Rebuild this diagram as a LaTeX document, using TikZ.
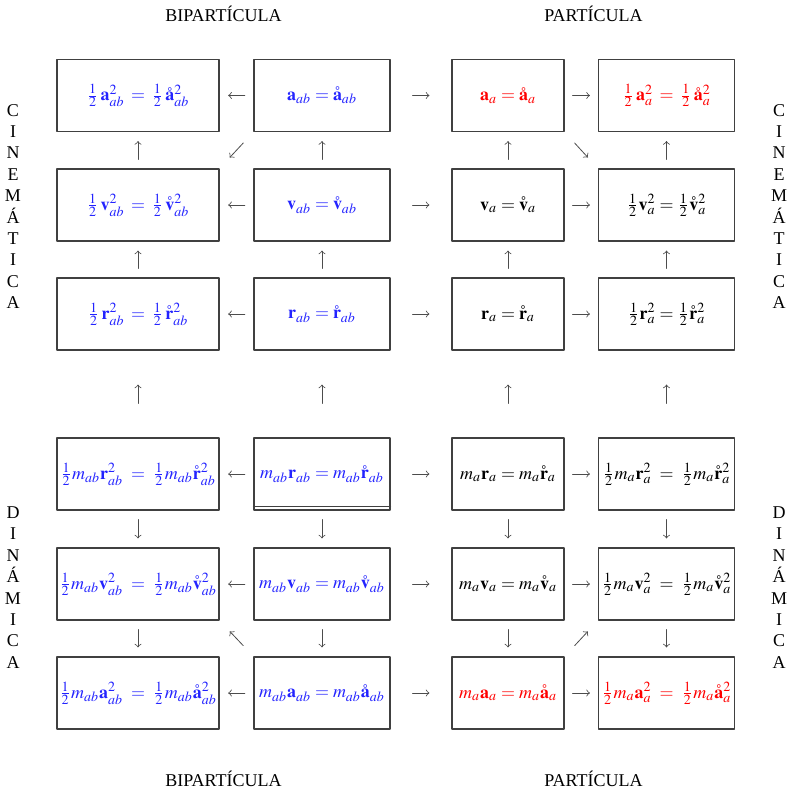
\documentclass[tikz,border=0pt]{standalone}
\usepackage{mathptmx}
\usepackage{fontspec}
\setmainfont{Liberation Serif}
\definecolor{bipar}{RGB}{35,35,255}
\begin{document}
\begin{tikzpicture}[x=0.5pt, y=-0.5pt, font=\fontsize{9}{11}\selectfont, >=to, line join=round, line cap=round,
		caja/.style={draw=black!75, line width=0.6pt, minimum height=36pt, inner sep=1pt},
		ancha/.style={caja, minimum width=81pt},
		media/.style={caja, minimum width=68pt},
		corta/.style={caja, minimum width=56pt},
		flecha/.style={->, black!70, line width=0.4pt},
		letras/.style={align=center, inner sep=0pt, font=\fontsize{9}{10.7}\selectfont}]
	\useasboundingbox (0,0) rectangle (795,790);
	% cinematica
	\node[ancha, text=bipar] (b11) at (138,95.5) {$\frac12\,\mathbf{a}^2_{ab} \:=\: \frac12\,\mathring{\mathbf{a}}^2_{ab}$};
	\node[media, text=bipar] (b12) at (322,95.5) {$\mathbf{a}_{ab}=\mathring{\mathbf{a}}_{ab}$};
	\node[corta, text=red] (b13) at (508,95.5) {$\mathbf{a}_a=\mathring{\mathbf{a}}_a$};
	\node[media, text=red] (b14) at (666.5,95.5) {$\frac12\,\mathbf{a}^2_a \:=\: \frac12\,\mathring{\mathbf{a}}^2_a$};
	\node[ancha, text=bipar] (b21) at (138,205) {$\frac12\,\mathbf{v}^2_{ab} \:=\: \frac12\,\mathring{\mathbf{v}}^2_{ab}$};
	\node[media, text=bipar] (b22) at (322,205) {$\mathbf{v}_{ab}=\mathring{\mathbf{v}}_{ab}$};
	\node[corta] (b23) at (508,205) {$\mathbf{v}_a=\mathring{\mathbf{v}}_a$};
	\node[media] (b24) at (666.5,205) {$\frac12\mathbf{v}^2_a = \frac12\mathring{\mathbf{v}}^2_a$};
	\node[ancha, text=bipar] (b31) at (138,314) {$\frac12\,\mathbf{r}^2_{ab} \:=\: \frac12\,\mathring{\mathbf{r}}^2_{ab}$};
	\node[media, text=bipar] (b32) at (322,314) {$\mathbf{r}_{ab}=\mathring{\mathbf{r}}_{ab}$};
	\node[corta] (b33) at (508,314) {$\mathbf{r}_a=\mathring{\mathbf{r}}_a$};
	\node[media] (b34) at (666.5,314) {$\frac12\mathbf{r}^2_a = \frac12\mathring{\mathbf{r}}^2_a$};
	% dinamica
	\node[ancha, text=bipar] (b41) at (138,474) {$\frac12 m_{ab}\mathbf{r}^2_{ab} \;=\; \frac12 m_{ab}\mathring{\mathbf{r}}^2_{ab}$};
	\node[media, text=bipar] (b42) at (322,474) {$m_{ab}\mathbf{r}_{ab}=m_{ab}\mathring{\mathbf{r}}_{ab}$};
	\node[corta] (b43) at (508,474) {$m_a\mathbf{r}_a=m_a\mathring{\mathbf{r}}_a$};
	\node[media] (b44) at (666.5,474) {$\frac12 m_a\mathbf{r}^2_a \;=\; \frac12 m_a\mathring{\mathbf{r}}^2_a$};
	\node[ancha, text=bipar] (b51) at (138,584) {$\frac12 m_{ab}\mathbf{v}^2_{ab} \;=\; \frac12 m_{ab}\mathring{\mathbf{v}}^2_{ab}$};
	\node[media, text=bipar] (b52) at (322,584) {$m_{ab}\mathbf{v}_{ab}=m_{ab}\mathring{\mathbf{v}}_{ab}$};
	\node[corta] (b53) at (508,584) {$m_a\mathbf{v}_a=m_a\mathring{\mathbf{v}}_a$};
	\node[media] (b54) at (666.5,584) {$\frac12 m_a\mathbf{v}^2_a \;=\; \frac12 m_a\mathring{\mathbf{v}}^2_a$};
	\node[ancha, text=bipar] (b61) at (138,693) {$\frac12 m_{ab}\mathbf{a}^2_{ab} \;=\; \frac12 m_{ab}\mathring{\mathbf{a}}^2_{ab}$};
	\node[media, text=bipar] (b62) at (322,693) {$m_{ab}\mathbf{a}_{ab}=m_{ab}\mathring{\mathbf{a}}_{ab}$};
	\node[corta, text=red] (b63) at (508,693) {$m_a\mathbf{a}_a=m_a\mathring{\mathbf{a}}_a$};
	\node[media, text=red] (b64) at (666.5,693) {$\frac12 m_a\mathbf{a}^2_a \;=\; \frac12 m_a\mathring{\mathbf{a}}^2_a$};
	\draw[draw=black!75, line width=0.6pt] ([yshift=2pt]b42.south west) -- ([yshift=2pt]b42.south east);
	% flechas
	\foreach \r in {1,...,6} {
		\draw[flecha, shorten <=4.3pt, shorten >=4.3pt] (b\r2) -- (b\r1);
		\draw[flecha, shorten <=11pt, shorten >=11pt] (b\r2) -- (b\r3);
		\draw[flecha, shorten <=4pt, shorten >=4pt] (b\r3) -- (b\r4);
	}
	\foreach \c in {1,...,4} {
		\draw[flecha, shorten <=4.5pt, shorten >=4.5pt] (b2\c) -- (b1\c);
		\draw[flecha, shorten <=4.5pt, shorten >=4.5pt] (b3\c) -- (b2\c);
		\draw[flecha, shorten <=17pt, shorten >=17pt] (b4\c) -- (b3\c);
		\draw[flecha, shorten <=4.5pt, shorten >=4.5pt] (b4\c) -- (b5\c);
		\draw[flecha, shorten <=4.5pt, shorten >=4.5pt] (b5\c) -- (b6\c);
	}
	\draw[flecha, shorten <=7.4pt, shorten >=7.4pt] (b12.south west) -- (b21.north east);
	\draw[flecha, shorten <=7.4pt, shorten >=7.4pt] (b13.south east) -- (b24.north west);
	\draw[flecha, shorten <=7.4pt, shorten >=7.4pt] (b62.north west) -- (b51.south east);
	\draw[flecha, shorten <=7.4pt, shorten >=7.4pt] (b63.north east) -- (b54.south west);
	% rotulos
	\node (bipa) at (223.5,14) {BIPARTÍCULA};
	\node (part) at (593.5,14) {PARTÍCULA};
	\node (bipb) at (223.5,779) {BIPARTÍCULA};
	\node (parb) at (593.5,779) {PARTÍCULA};
	\node[letras] (cini) at (13,206.5) {C\\I\\N\\E\\M\\Á\\T\\I\\C\\A};
	\node[letras] (cind) at (779,206.5) {C\\I\\N\\E\\M\\Á\\T\\I\\C\\A};
	\node[letras] (dini) at (13,587.5) {D\\I\\N\\Á\\M\\I\\C\\A};
	\node[letras] (dind) at (779,587.5) {D\\I\\N\\Á\\M\\I\\C\\A};
\end{tikzpicture}
\end{document}
